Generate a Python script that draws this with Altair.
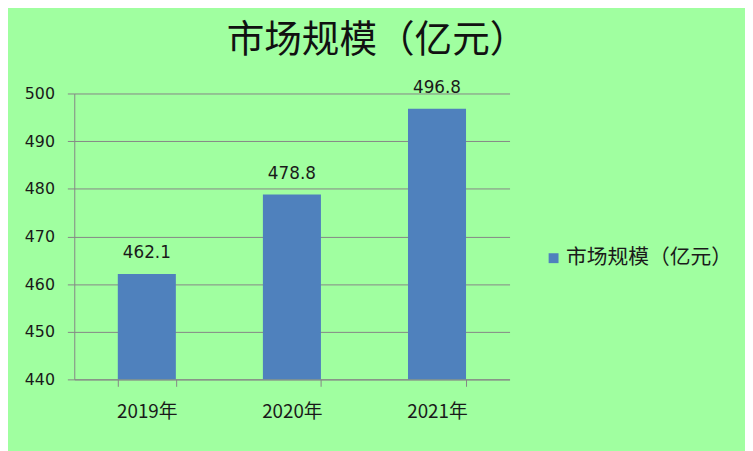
import altair as alt
import pandas as pd

years = ["2019年", "2020年", "2021年"]
values = [462.1, 478.8, 496.8]
series_name = "市场规模（亿元）"
y_ticks = [440, 450, 460, 470, 480, 490, 500]

df = pd.DataFrame({"year": years, "value": values, "series": [series_name] * len(years)})

GRID = "#868686"
TXT = "#1a1a1a"

x_enc = alt.X(
    "year:N",
    sort=years,
    scale=alt.Scale(paddingInner=0.6, paddingOuter=0.3),
    axis=alt.Axis(
        title=None, labelAngle=0, tickBand="extent", grid=False,
        domainColor=GRID, tickColor=GRID, tickSize=7,
        labelFont="Noto Sans CJK SC", labelFontSize=19, labelColor=TXT,
        labelPadding=17,
    ),
)
y_enc = alt.Y(
    "value:Q",
    scale=alt.Scale(domain=[440, 500], nice=False, zero=False),
    axis=alt.Axis(
        title=None, values=y_ticks, grid=True, gridColor=GRID,
        domainColor=GRID, tickColor=GRID, tickSize=7,
        labelFont="DejaVu Sans", labelFontSize=16, labelColor=TXT,
        labelPadding=13,
    ),
)

bars = alt.Chart(df).mark_bar(clip=True, color="#4F81BD").encode(
    x=x_enc,
    y=y_enc,
    color=alt.Color(
        "series:N",
        scale=alt.Scale(range=["#4F81BD"]),
        legend=alt.Legend(
            title=None, orient="none", legendX=474, legendY=156,
            symbolType="square", symbolSize=100, symbolStrokeWidth=0,
            labelFont="Noto Sans CJK SC", labelFontSize=21, labelColor=TXT,
            labelOffset=2, labelLimit=400,
        ),
    ),
)

labels = alt.Chart(df).mark_text(
    baseline="bottom", dy=-12, font="DejaVu Sans", fontSize=17, color=TXT
).encode(
    x=alt.X("year:N", sort=years),
    y=alt.Y("value:Q"),
    text=alt.Text("value:Q", format=".1f"),
)

chart = (
    alt.layer(bars, labels)
    .properties(
        width=440,
        height=289,
        autosize=alt.AutoSizeParams(type="none"),
        padding={"left": 67, "top": 84, "right": 238, "bottom": 70},
        background="#A0FFA0",
        title=alt.Title(
            series_name, font="Noto Sans CJK SC", fontSize=38, fontWeight="normal",
            color="#111111", anchor="middle", dx=86, dy=41, offset=22, baseline="bottom",
        ),
    )
    .configure_view(stroke=None)
)

chart.save("out.html", embed_options={"renderer": "svg", "actions": False})
